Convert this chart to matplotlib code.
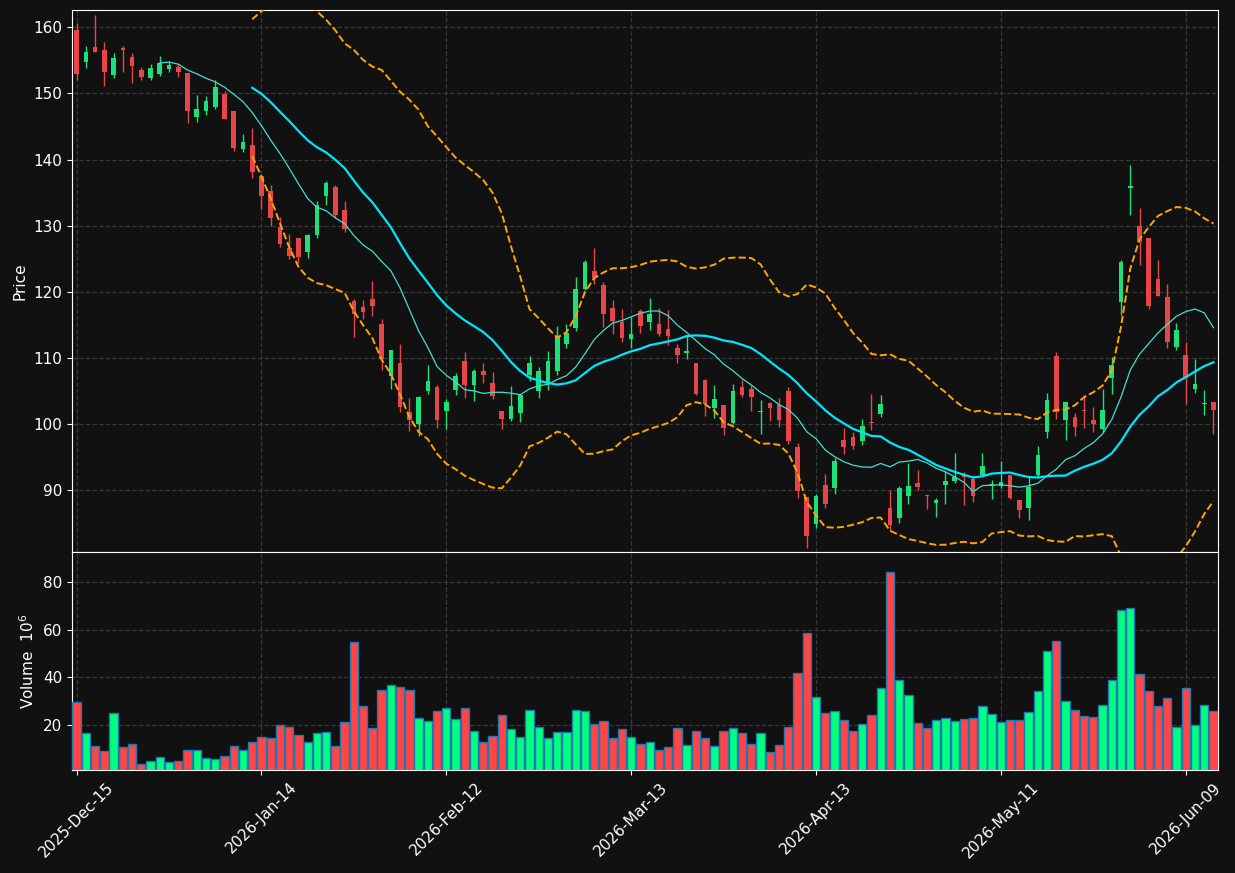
import numpy as np
import pandas as pd
import matplotlib
matplotlib.use("Agg")
import matplotlib.pyplot as plt

# OHLC, one row per trading day
opens = [159.6, 154.8, 157.0, 156.6, 152.8, 156.9, 155.5, 153.5, 152.3, 152.9,
         153.7, 154.0, 153.1, 146.4, 147.4, 148.0, 149.9, 147.4, 141.6, 142.2,
         137.5, 135.2, 129.8, 126.6, 128.1, 126.1, 128.6, 134.5, 135.8, 132.4,
         118.6, 117.7, 118.9, 115.1, 107.3, 109.3, 101.8, 100.0, 105.0, 105.7,
         102.0, 105.2, 109.6, 105.9, 108.1, 106.2, 102.0, 100.8, 101.7, 107.4,
         105.0, 106.2, 108.1, 112.1, 114.6, 120.4, 123.1, 121.0, 117.5, 115.4,
         112.9, 117.1, 115.4, 115.1, 114.4, 111.5, 110.7, 109.2, 106.7, 102.4,
         102.9, 100.2, 105.7, 105.4, 101.8, 103.2, 102.9, 105.0, 96.6, 89.0,
         84.9, 90.8, 90.3, 97.7, 98.1, 97.4, 100.4, 101.5, 87.4, 85.8,
         89.1, 91.2, 89.3, 88.1, 90.9, 91.4, 92.4, 91.8, 92.3, 90.7,
         90.6, 92.3, 88.6, 87.4, 92.3, 98.9, 110.3, 100.7, 101.1, 102.2,
         100.7, 99.3, 107.0, 118.5, 135.7, 129.9, 128.1, 122.0, 119.3, 111.7,
         110.4, 105.3, 103.0, 103.4]
highs = [160.7, 157.2, 161.9, 157.7, 156.1, 157.2, 156.1, 154.0, 154.5, 155.7,
         154.9, 154.4, 153.1, 149.7, 149.6, 152.1, 150.3, 147.4, 143.8, 144.8,
         137.5, 136.2, 131.3, 128.8, 128.1, 128.8, 133.8, 136.7, 136.1, 133.7,
         119.0, 118.8, 121.7, 115.9, 111.3, 112.2, 104.0, 104.3, 109.0, 105.9,
         103.8, 107.8, 110.9, 108.4, 109.3, 107.9, 102.0, 105.8, 104.4, 110.3,
         108.7, 111.1, 114.9, 115.2, 122.2, 124.8, 126.7, 121.5, 118.8, 117.4,
         116.2, 117.4, 119.1, 117.5, 117.2, 112.2, 113.3, 109.2, 106.9, 106.0,
         102.9, 106.1, 106.7, 105.9, 103.6, 103.4, 104.0, 105.7, 97.1, 89.0,
         89.4, 92.5, 94.9, 99.4, 98.8, 100.8, 104.6, 104.5, 90.0, 90.6,
         94.1, 93.1, 89.5, 88.9, 92.9, 95.7, 92.8, 92.3, 95.7, 91.6,
         94.5, 92.3, 88.6, 92.0, 96.7, 104.7, 110.9, 103.4, 101.7, 104.5,
         102.6, 105.4, 110.2, 124.8, 139.2, 132.7, 128.1, 124.9, 121.2, 115.3,
         112.4, 109.9, 105.2, 103.4]
lows = [152.1, 153.9, 156.2, 151.1, 152.4, 153.2, 151.5, 152.0, 152.1, 152.7,
        153.2, 152.5, 145.6, 145.7, 146.7, 147.7, 146.2, 141.3, 141.1, 137.2,
        132.6, 129.9, 126.8, 125.0, 124.4, 125.2, 128.2, 133.2, 131.2, 129.1,
        113.2, 115.9, 116.4, 108.2, 105.4, 101.9, 99.0, 98.2, 104.6, 99.5,
        99.3, 104.5, 104.0, 103.5, 106.2, 103.8, 99.3, 100.5, 100.3, 106.6,
        104.0, 105.2, 107.5, 111.6, 114.1, 120.3, 121.2, 114.7, 113.7, 112.5,
        111.6, 113.8, 114.3, 113.3, 112.0, 109.2, 109.9, 104.4, 101.3, 101.0,
        98.4, 100.1, 104.1, 102.0, 98.5, 100.5, 99.6, 97.0, 88.8, 81.3,
        84.4, 87.3, 89.4, 95.5, 96.2, 96.9, 99.1, 101.1, 84.0, 85.1,
        88.0, 90.1, 87.2, 86.0, 88.0, 91.1, 87.8, 88.2, 92.0, 88.7,
        90.3, 88.7, 85.9, 85.6, 92.0, 97.9, 100.8, 97.6, 98.2, 99.5,
        98.8, 98.8, 104.6, 116.5, 131.7, 124.1, 117.4, 119.4, 111.6, 111.2,
        103.1, 104.7, 101.4, 98.5]
closes = [153.0, 156.3, 156.3, 153.3, 155.4, 156.6, 154.2, 152.5, 153.8, 154.6,
          154.3, 153.2, 147.4, 147.6, 148.8, 151.0, 146.2, 141.8, 142.6, 138.2,
          134.5, 131.2, 127.3, 125.4, 125.3, 128.6, 133.1, 136.5, 131.7, 129.5,
          116.6, 117.0, 117.9, 109.9, 111.2, 102.6, 100.7, 104.1, 106.6, 100.6,
          103.4, 107.3, 105.9, 108.0, 107.4, 104.3, 100.8, 102.7, 104.4, 109.3,
          108.1, 109.5, 113.2, 113.8, 120.4, 124.5, 122.1, 116.6, 115.6, 113.0,
          113.7, 114.8, 116.7, 113.7, 113.3, 110.4, 111.0, 104.6, 103.1, 103.8,
          99.5, 105.1, 104.5, 104.1, 102.0, 102.4, 100.6, 97.4, 89.9, 83.1,
          89.2, 87.9, 94.4, 96.6, 96.7, 99.7, 100.2, 103.1, 84.8, 90.3,
          90.6, 90.5, 89.1, 88.5, 91.4, 92.1, 92.0, 89.1, 93.7, 91.0,
          91.3, 88.9, 87.0, 90.5, 95.3, 103.6, 101.8, 103.4, 99.6, 102.0,
          100.0, 102.2, 108.9, 124.5, 136.0, 127.6, 117.9, 119.4, 112.5, 114.3,
          107.0, 106.1, 103.1, 102.1]
# volume in millions
volumes = [29.5, 16.5, 11.4, 9.3, 24.9, 11.0, 12.2, 3.8, 5.0, 6.7,
           4.6, 5.0, 9.7, 9.7, 6.3, 5.9, 7.1, 11.4, 9.7, 12.7,
           15.2, 14.4, 19.9, 19.4, 16.0, 12.7, 16.5, 17.3, 11.4, 21.1,
           55.0, 27.9, 18.6, 34.7, 36.8, 36.0, 34.7, 22.8, 21.6, 25.8,
           27.1, 22.4, 27.1, 17.7, 13.1, 15.6, 24.1, 18.2, 15.2, 26.2,
           19.0, 14.4, 17.3, 17.3, 26.2, 25.8, 20.3, 21.6, 14.4, 18.2,
           14.8, 12.2, 13.1, 9.7, 11.0, 18.6, 11.8, 17.7, 14.4, 11.4,
           17.7, 18.6, 16.5, 12.2, 16.5, 8.8, 11.8, 19.4, 41.9, 58.8,
           31.7, 24.9, 25.8, 22.0, 17.7, 20.3, 24.1, 35.5, 84.3, 38.8,
           32.6, 20.7, 18.6, 22.0, 22.8, 21.6, 22.4, 22.8, 27.9, 24.5,
           21.1, 22.0, 22.0, 25.4, 34.3, 51.2, 55.5, 30.0, 26.2, 23.7,
           23.2, 28.3, 38.9, 68.2, 69.0, 41.5, 34.3, 27.9, 31.3, 19.4,
           35.5, 19.9, 28.3, 25.8]
tick_pos = [0, 20, 40, 60, 80, 100, 120]
tick_labels = ['2025-Dec-15', '2026-Jan-14', '2026-Feb-12', '2026-Mar-13',
               '2026-Apr-13', '2026-May-11', '2026-Jun-09']

df = pd.DataFrame({'Open': opens, 'High': highs, 'Low': lows,
                   'Close': closes, 'Volume': volumes})
x = np.arange(len(df))
up = df['Close'] >= df['Open']

ma10 = df['Close'].rolling(10).mean()
ma20 = df['Close'].rolling(20).mean()
sd20 = df['Close'].rolling(20).std(ddof=0)
bb_up = ma20 + 2 * sd20
bb_lo = ma20 - 2 * sd20

bg = '#111111'
c_up, c_dn = '#1de07a', '#e8454a'
v_up, v_dn = '#00ff80', '#ff4545'

fig = plt.figure(figsize=(12.35, 8.73), dpi=100, facecolor=bg)
ax = fig.add_axes([0.0583, 0.3677, 0.928, 0.6208], facecolor=bg)
axv = fig.add_axes([0.0583, 0.118, 0.928, 0.2497], facecolor=bg, sharex=ax)

# candles
cols = np.where(up, c_up, c_dn)
ax.vlines(x, df['Low'], df['High'], colors=cols, linewidth=1.0, zorder=2)
body_lo = np.minimum(df['Open'], df['Close'])
body_h = np.maximum(np.abs(df['Close'] - df['Open']), 0.15)
ax.bar(x, body_h, bottom=body_lo, width=0.5, color=cols, linewidth=0, zorder=3)

ax.plot(x, ma10, color='#40e0d0', linewidth=0.9, zorder=4)
ax.plot(x, ma20, color='#00e5ff', linewidth=1.6, zorder=4)
ax.plot(x, bb_up, color='#ffa500', linewidth=1.4, linestyle='--', zorder=4)
ax.plot(x, bb_lo, color='#ffa500', linewidth=1.4, linestyle='--', zorder=4)

# volume
vcols = np.where(up, v_up, v_dn)
axv.bar(x, df['Volume'], width=0.9, color=vcols, edgecolor='#1f77b4',
        linewidth=1.0, zorder=3)

ax.set_xlim(-0.5, len(df) - 0.5)
ax.set_ylim(80.7, 162.6)
axv.set_ylim(0.3 * df['Volume'].min(), 1.1 * df['Volume'].max())
ax.set_yticks([90, 100, 110, 120, 130, 140, 150, 160])
axv.set_yticks([20, 40, 60, 80])
axv.set_xticks(tick_pos)
axv.set_xticklabels(tick_labels, rotation=45)
plt.setp(ax.get_xticklabels(), visible=False)
ax.tick_params(axis='x', length=0)

ax.set_ylabel('Price', color='white', fontsize=11)
axv.set_ylabel('Volume  $10^{6}$', color='white', fontsize=11)

for a in (ax, axv):
    a.grid(True, color='#383838', linestyle='--', linewidth=0.9)
    a.set_axisbelow(True)
    a.tick_params(colors='white', labelsize=11)
    for s in a.spines.values():
        s.set_color('white')

fig.savefig('out.png', dpi=100, facecolor=bg)
